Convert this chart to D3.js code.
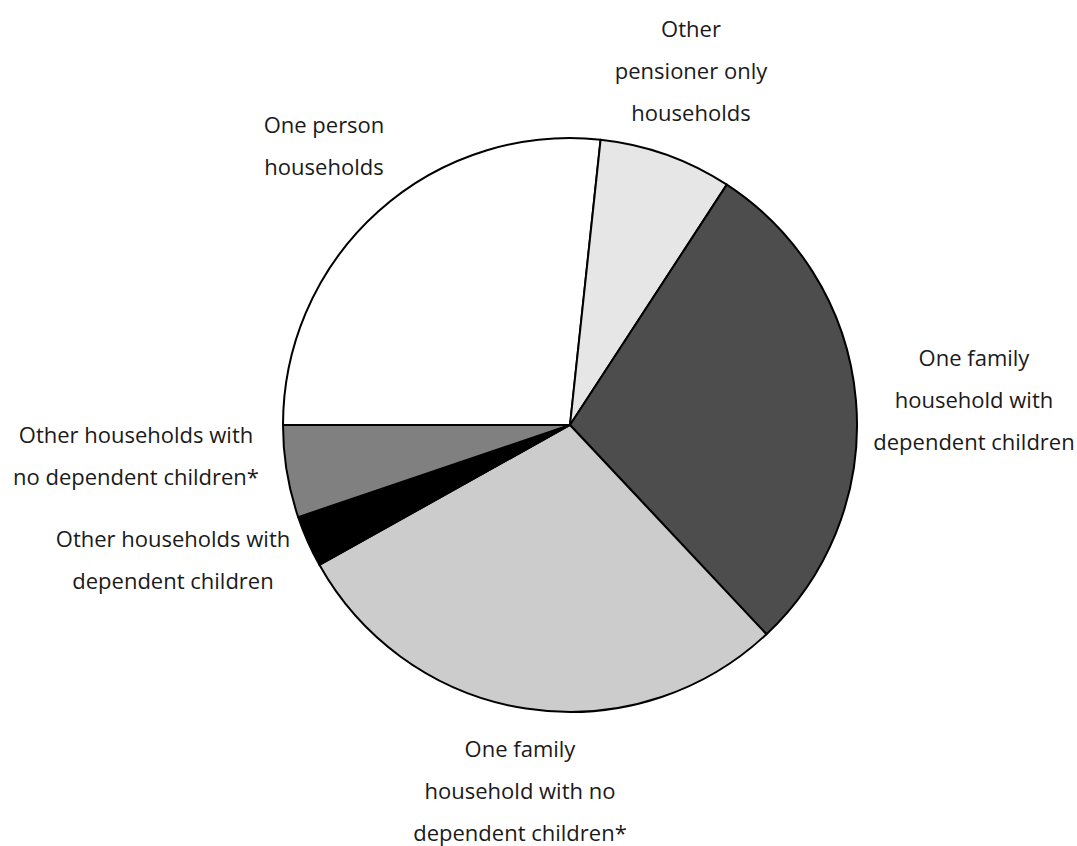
<!DOCTYPE html>
<html>
<head>
<meta charset="utf-8">
<script src="https://cdn.jsdelivr.net/npm/d3@7"></script>
<style>
  html, body { margin: 0; padding: 0; background: #ffffff; }
  svg { display: block; }
  text { font-family: "Open Sans", "Noto Sans", sans-serif; font-size: 22px; fill: #1a1a1a; }
</style>
</head>
<body>
<svg id="chart" width="1077" height="846"></svg>
<script>
// Household composition shares (%), in drawing order clockwise from 9 o'clock
const categories = [
  "One person households",
  "Other pensioner only households",
  "One family household with dependent children",
  "One family household with no dependent children*",
  "Other households with dependent children",
  "Other households with no dependent children*"
];
const values = [26.7, 7.5, 28.8, 28.9, 2.9, 5.2];

// Label text, broken into lines as displayed
const labelLines = [
  ["One person", "households"],
  ["Other", "pensioner only", "households"],
  ["One family", "household with", "dependent children"],
  ["One family", "household with no", "dependent children*"],
  ["Other households with", "dependent children"],
  ["Other households with", "no dependent children*"]
];

// Slice fills
const fills = ["#ffffff", "#e6e6e6", "#4d4d4d", "#cccccc", "#000000", "#808080"];

// Label anchors: centre x and first baseline y
const labelAnchors = [
  [324, 133], [691, 37], [974, 366], [520, 757], [173, 547], [136, 443]
];
const lineStep = 42;

const svg = d3.select("#chart");
const cx = 570, cy = 425, radius = 287;

const pie = d3.pie()
  .sort(null)
  .value(d => d)
  .startAngle(1.5 * Math.PI)
  .endAngle(3.5 * Math.PI);

const arc = d3.arc().innerRadius(0).outerRadius(radius);

const g = svg.append("g").attr("transform", `translate(${cx},${cy})`);

g.selectAll("path.slice")
  .data(pie(values))
  .join("path")
  .attr("class", "slice")
  .attr("d", arc)
  .attr("fill", (d, i) => fills[i])
  .attr("stroke", "#000000")
  .attr("stroke-width", 2)
  .attr("stroke-linejoin", "round");

const labels = svg.selectAll("text.label")
  .data(categories)
  .join("text")
  .attr("class", "label")
  .attr("text-anchor", "middle");

labels.each(function(d, i) {
  const [x, y] = labelAnchors[i];
  d3.select(this).selectAll("tspan")
    .data(labelLines[i])
    .join("tspan")
    .attr("x", x)
    .attr("y", (t, k) => y + k * lineStep)
    .text(t => t);
});
</script>
</body>
</html>
